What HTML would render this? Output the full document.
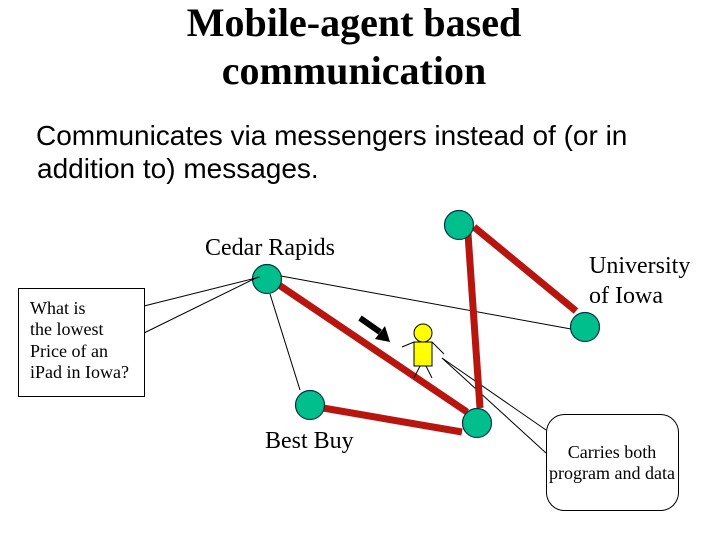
<!DOCTYPE html>
<html><head><meta charset="utf-8"><style>
html,body{margin:0;padding:0;background:#fff}
svg{display:block}
.t{font-family:"Liberation Serif",serif}
.s{font-family:"Liberation Sans",sans-serif}
</style></head><body>
<svg width="720" height="540" viewBox="0 0 720 540" xmlns="http://www.w3.org/2000/svg">
<rect width="720" height="540" fill="#fff"/>
<text class="t" x="354" y="36" font-size="40" font-weight="bold" text-anchor="middle">Mobile-agent based</text>
<text class="t" x="354" y="84" font-size="40" font-weight="bold" text-anchor="middle">communication</text>
<text class="s" x="36" y="145" font-size="28">Communicates via messengers instead of (or in</text>
<text class="s" x="37" y="178" font-size="28">addition to) messages.</text>
<text class="t" x="205" y="255" font-size="24">Cedar Rapids</text>
<text class="t" x="589" y="273" font-size="24">University</text>
<text class="t" x="589" y="303" font-size="24">of Iowa</text>
<text class="t" x="265" y="448" font-size="24">Best Buy</text>

<!-- thin links -->
<g stroke="#000" stroke-width="1" fill="none">
<line x1="281" y1="276" x2="571" y2="329"/>
<line x1="270" y1="294" x2="300" y2="390"/>
<line x1="442" y1="358" x2="546" y2="430"/>
<line x1="442" y1="358" x2="546" y2="453"/>
</g>
<!-- red links -->
<g stroke="#b8150f" stroke-width="7" fill="none">
<line x1="276" y1="283" x2="467" y2="412"/>
<line x1="323" y1="408" x2="462" y2="432"/>
<line x1="468" y1="234" x2="480" y2="408"/>
<line x1="474" y1="227" x2="576" y2="311"/>
</g>
<!-- nodes -->
<g fill="#00bf8c" stroke="#034" stroke-width="1.2">
<circle cx="267" cy="279" r="14.500"/>
<circle cx="459" cy="225" r="14.500"/>
<circle cx="585" cy="327" r="14.500"/>
<circle cx="310" cy="405" r="14.500"/>
<circle cx="477" cy="423" r="14.500"/>
</g>
<!-- callout pointer lines over the node -->
<g stroke="#000" stroke-width="1" fill="none">
<line x1="144" y1="306" x2="260" y2="277"/>
<line x1="144" y1="333" x2="258" y2="277"/>
</g>
<!-- arrow -->
<line x1="360" y1="318" x2="380" y2="332" stroke="#000" stroke-width="6"/>
<polygon points="390,342 375,339 385,326" fill="#000"/>
<!-- agent -->
<g stroke="#000" stroke-width="1">
<line x1="402" y1="347" x2="414" y2="342"/>
<line x1="432" y1="342" x2="444" y2="354"/>
<line x1="420" y1="366" x2="414" y2="378"/>
<line x1="426" y1="366" x2="432" y2="378"/>
<circle cx="423" cy="333" r="9" fill="#ffff00"/>
<rect x="414" y="342" width="18" height="24" fill="#ffff00"/>
</g>
<!-- question callout -->
<rect x="18.500" y="288.500" width="126" height="108" fill="#fff" stroke="#000" stroke-width="1"/>
<g class="t" font-size="18">
<text x="30" y="314">What is</text>
<text x="30" y="335">the lowest</text>
<text x="30" y="357">Price of an</text>
<text x="30" y="378">iPad in Iowa?</text>
</g>
<!-- data callout -->
<rect x="546.500" y="414.500" width="132" height="96" rx="18" ry="18" fill="#fff" stroke="#000" stroke-width="1"/>
<g class="t" font-size="18" text-anchor="middle">
<text x="612" y="458">Carries both</text>
<text x="612" y="479">program and data</text>
</g>
</svg>
</body></html>
